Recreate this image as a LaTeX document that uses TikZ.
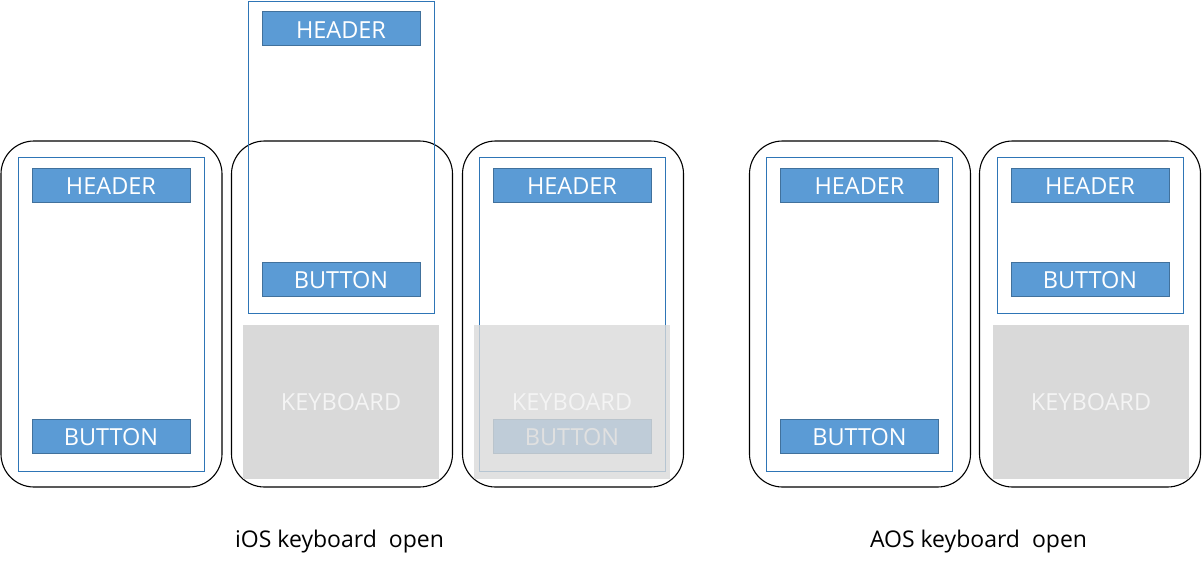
\documentclass[tikz,border=0pt]{standalone}
\usepackage{fontspec}
\setmainfont{Open Sans}
\begin{document}
\begin{tikzpicture}[x=1pt,y=-1pt,
  phone/.style={draw=black,line width=1.1pt,rounded corners=33pt,minimum width=221pt,minimum height=346pt,inner sep=0pt,outer sep=0pt},
  screen/.style={draw=scrblue,line width=0.9pt,minimum width=186pt,inner sep=0pt,outer sep=0pt},
  bar/.style={draw=barline,fill=barfill,line width=0.9pt,minimum width=158pt,minimum height=34pt,inner sep=0pt,outer sep=0pt,text=white,font=\fontsize{23.5}{23.5}\selectfont,text height=19pt,text depth=0pt},
  kbd/.style={fill=kbdgray,minimum width=196pt,minimum height=154pt,inner sep=0pt,outer sep=0pt},
  kbdtext/.style={text=kbdtxt,font=\fontsize{23.5}{23.5}\selectfont,inner sep=0pt},
  caption/.style={text=black,font=\fontsize{23}{23}\selectfont,inner sep=0pt}]
\definecolor{scrblue}{HTML}{2E75B6}
\definecolor{barline}{HTML}{41719C}
\definecolor{barfill}{HTML}{5B9BD5}
\definecolor{kbdgray}{HTML}{D9D9D9}
\definecolor{kbdtxt}{HTML}{F4F4F4}
\useasboundingbox (0,0) rectangle (1202,568);
% phone 1
\node[phone] (p1) at (111.5,314) {};
\node[screen,minimum height=314pt] (s1) at (111,314) {};
\node[bar] (h1) at (111,185) {HEADER};
\node[bar] (b1) at (111,436) {BUTTON};
% phone 2
\node[phone] (p2) at (342,314) {};
\node[screen,minimum height=312pt] (s2) at (341,157) {};
\node[bar] (h2) at (341,28.5) {HEADER};
\node[bar] (b2) at (341,279) {BUTTON};
\node[kbd] (k2) at (341,402) {};
\node[kbdtext] (kt2) at (341,402.5) {KEYBOARD};
% phone 3
\node[phone] (p3) at (573,314) {};
\node[screen,minimum height=314pt] (s3) at (572,314) {};
\node[bar] (h3) at (572,185) {HEADER};
\node[bar] (b3) at (572,436) {BUTTON};
\node[kbd,fill opacity=0.8] (k3) at (572,402) {};
\node[kbdtext] (kt3) at (572,402.5) {KEYBOARD};
% phone 4
\node[phone] (p4) at (860,314) {};
\node[screen,minimum height=314pt] (s4) at (859.5,314) {};
\node[bar] (h4) at (859.5,185) {HEADER};
\node[bar] (b4) at (859.5,436) {BUTTON};
% phone 5
\node[phone] (p5) at (1090,314) {};
\node[screen,minimum height=156pt] (s5) at (1090,235) {};
\node[bar] (h5) at (1090,185) {HEADER};
\node[bar] (b5) at (1090,279) {BUTTON};
\node[kbd] (k5) at (1091,402) {};
\node[kbdtext] (kt5) at (1091,402.5) {KEYBOARD};
% captions
\node[caption,anchor=base] (c1) at (339.5,547) {iOS keyboard\ \ open};
\node[caption,anchor=base] (c2) at (978.5,547) {AOS keyboard\ \ open};
\end{tikzpicture}
\end{document}
